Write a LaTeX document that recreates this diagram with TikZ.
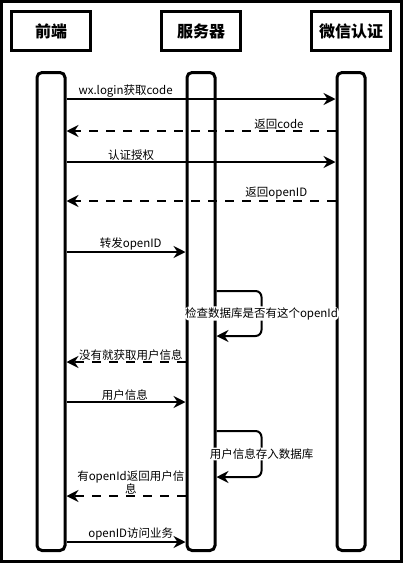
\documentclass[tikz,border=0pt]{standalone}
\usepackage{fontspec}
\setmainfont{Noto Sans CJK SC}
\usetikzlibrary{arrows.meta,positioning,calc}

\begin{document}
\begin{tikzpicture}[x=1pt,y=-1pt,node distance=19pt]
\tikzstyle{head} = [rectangle, draw, line width=3pt, minimum width=79pt, minimum height=39pt, inner sep=0pt, font=\fontsize{16}{18}\selectfont\bfseries]
\tikzstyle{bar} = [rectangle, draw, fill=white, line width=3pt, rounded corners=5pt, minimum width=28pt, minimum height=478pt, inner sep=0pt]
\tikzstyle{msg} = [draw, line width=2pt, -{Stealth[length=12pt,width=12pt,inset=4pt]}]
\tikzstyle{reply} = [msg, dash pattern=on 9pt off 8pt]
\tikzstyle{lbl} = [font=\fontsize{11.5}{13}\selectfont, inner sep=1pt]

% Outer frame
\useasboundingbox (0,0) rectangle (403,563);
\draw [line width=3pt] (1.5,1.5) rectangle (401.5,561.5);

% Participants
\node [head] (frontHead) at (51,31) {前端};
\node [head, right=68pt of frontHead] (serverHead) {服务器};
\node [head, right=68pt of serverHead] (wechatHead) {微信认证};

% Lifelines
\node [bar, below=of frontHead] (frontBar) {};
\node [bar, below=of serverHead] (serverBar) {};
\node [bar, below=of wechatHead] (wechatBar) {};

% Login with WeChat
\draw [msg] ([yshift=-28pt]frontBar.north east) -- ([yshift=-28pt]wechatBar.north west) node [lbl, above, pos=0.22] {wx.login获取code};
\draw [reply] ([yshift=-60pt]wechatBar.north west) -- ([yshift=-60pt]frontBar.north east) node [lbl, above, pos=0.21] {返回code};
\draw [msg] ([yshift=-91pt]frontBar.north east) -- ([yshift=-91pt]wechatBar.north west) node [lbl, above, pos=0.24] {认证授权};
\draw [reply] ([yshift=-130pt]wechatBar.north west) -- ([yshift=-130pt]frontBar.north east) node [lbl, above, pos=0.22] {返回openID};

% Server side
\draw [msg] ([yshift=-181pt]frontBar.north east) -- ([yshift=-181pt]serverBar.north west) node [lbl, above, pos=0.54] {转发openID};
\draw [msg, rounded corners=6pt] ([yshift=-220pt]serverBar.north east) -- ++(45,0) -- ++(0,45) node [lbl, midway, fill=white] {检查数据库是否有这个openId} -- ([yshift=-265pt]serverBar.north east);
\draw [reply] ([yshift=-291pt]serverBar.north west) -- ([yshift=-291pt]frontBar.north east) node [lbl, above, pos=0.46] {没有就获取用户信息};
\draw [msg] ([yshift=-331pt]frontBar.north east) -- ([yshift=-331pt]serverBar.north west) node [lbl, above, pos=0.49] {用户信息};
\draw [msg, rounded corners=6pt] ([yshift=-360pt]serverBar.north east) -- ++(45,0) -- ++(0,46) node [lbl, midway, fill=white] {用户信息存入数据库} -- ([yshift=-406pt]serverBar.north east);
\draw [reply] ([yshift=-425pt]serverBar.north west) -- ([yshift=-425pt]frontBar.north east) node [lbl, pos=0.46, yshift=14pt, align=center] {有openId返回用户信\\息};
\draw [msg] ([yshift=-471pt]frontBar.north east) -- ([yshift=-471pt]serverBar.north west) node [lbl, above, pos=0.54] {openID访问业务};

\end{tikzpicture}
\end{document}
